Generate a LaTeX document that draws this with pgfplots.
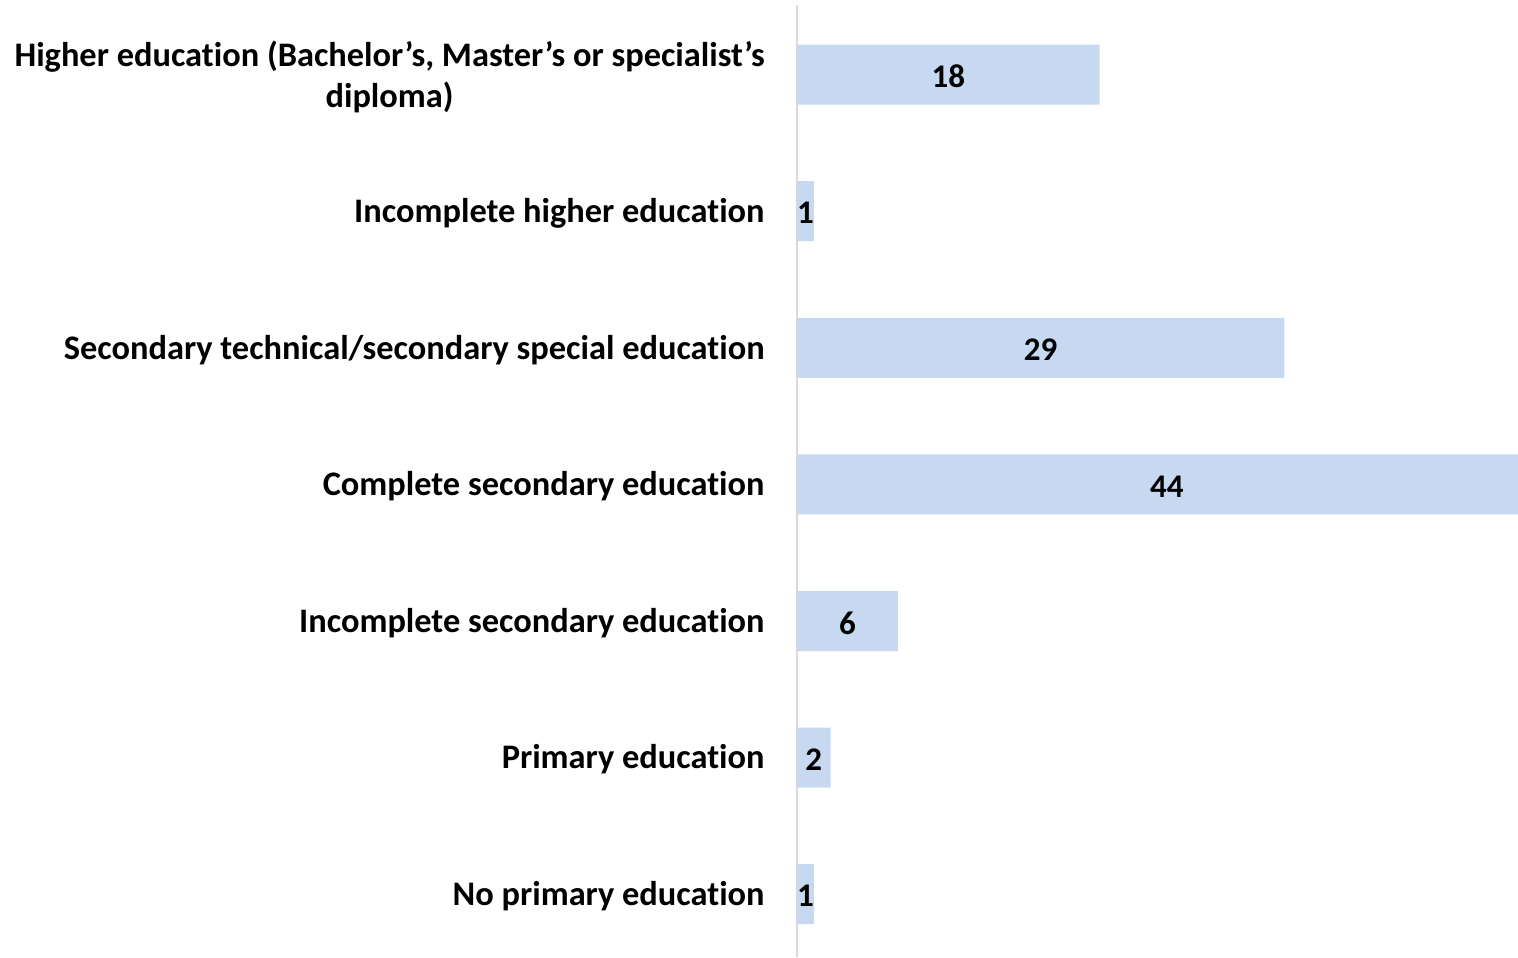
\documentclass[border=0pt]{standalone}
\usepackage{pgfplots}
\pgfplotsset{compat=1.18}
\usepackage{pgfplotstable}
\usepackage{fontspec}
\setmainfont{Carlito}[Ligatures=NoCommon]

\definecolor{barblue}{HTML}{C6D9F0}
\definecolor{axisgray}{HTML}{D9D9D9}

% education level, share of respondents (%)
\pgfplotstableread{
y value
0 18
1 1
2 29
3 44
4 6
5 2
6 1
}\edudata

\begin{document}
\begin{tikzpicture}
\begin{axis}[
at={(0,0)}, anchor=south west,
scale only axis,
width=360.5pt, height=476pt,
xbar, bar width=30pt, bar shift=0pt,
xmin=0, xmax=42.9,
ymin=-0.51, ymax=6.46,
y dir=reverse,
axis x line=none,
axis y line*=left,
y axis line style={draw=axisgray, line width=0.8pt, -},
ytick={0,...,6},
yticklabels={{Higher education (Bachelor’s, Master’s or specialist’s\\diploma)},
  {Incomplete higher education},
  {Secondary technical/secondary special education},
  {Complete secondary education},
  {Incomplete secondary education},
  {Primary education},
  {No primary education}},
major tick length=0pt,
yticklabel style={font=\fontsize{17.2}{20.5}\selectfont\bfseries, align=center, anchor=east, inner xsep=0pt, xshift=-16pt, yshift=-1pt},
/pgf/number format/assume math mode=true,
]
\addplot[fill=barblue, draw=none] table[x=value, y=y] {\edudata};
\addplot[draw=none, fill=none, forget plot,
  x filter/.expression={x/2}, point meta=rawx,
  nodes near coords, nodes near coords align=center,
  every node near coord/.append style={anchor=center, yshift=-1pt, font=\fontsize{16.5}{18}\selectfont\bfseries, text=black}]
  table[x=value, y=y] {\edudata};
\end{axis}
\pgfresetboundingbox
\path (-398.5pt,0pt) rectangle (360.5pt,478.5pt);
\end{tikzpicture}
\end{document}
